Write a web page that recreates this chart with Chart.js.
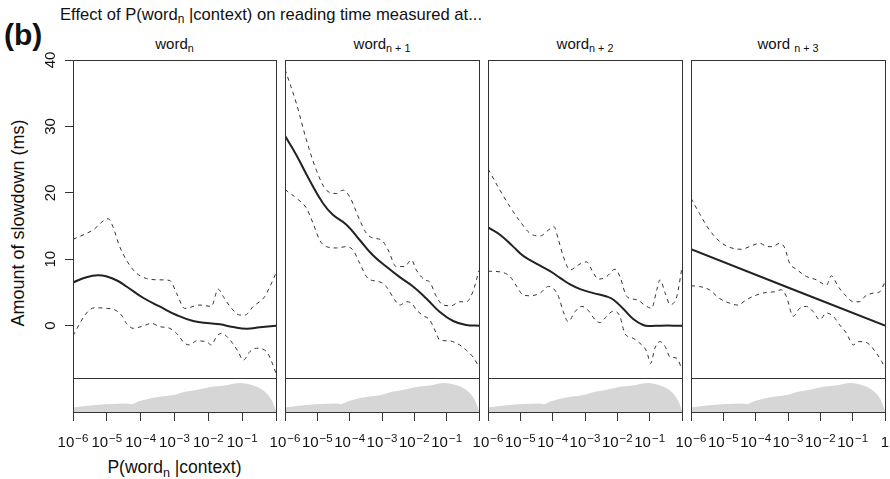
<!DOCTYPE html>
<html>
<head>
<meta charset="utf-8">
<script src="https://cdn.jsdelivr.net/npm/chart.js@4.4.1/dist/chart.umd.min.js"></script>
<style>
  html, body { margin: 0; padding: 0; background: #fff; }
  body { width: 890px; height: 479px; position: relative; overflow: hidden;
         font-family: "Liberation Sans", Arial, sans-serif; color: #111; }
  canvas { position: absolute; left: 0; top: 0; }
  .txt { position: absolute; white-space: nowrap; line-height: 1; }
  .txt sub { font-size: 0.72em; vertical-align: -0.28em; line-height: 0; }
  #tag { left: 4px; top: 20px; font-size: 30px; font-weight: bold; }
  #title { left: 60px; top: 7px; font-size: 16.6px; }
  .ptitle { top: 36px; font-size: 15px; text-align: center; }
  #ylab { left: 18px; top: 223px; font-size: 18px; transform: translate(-50%, -50%) rotate(-90deg); }
  #xlab { left: 73px; width: 203px; top: 459px; font-size: 17.5px; text-align: center; }
</style>
</head>
<body>
<div class="txt" id="tag">(b)</div>
<div class="txt" id="title">Effect of P(word<sub>n</sub> |context) on reading time measured at...</div>
<div class="txt ptitle" style="left:73px;width:203px">word<sub>n</sub></div>
<div class="txt ptitle" style="left:285px;width:194px">word<sub>n + 1</sub></div>
<div class="txt ptitle" style="left:488px;width:194px">word<sub>n + 2</sub></div>
<div class="txt ptitle" style="left:691px;width:194px">word <sub>n + 3</sub></div>
<div class="txt" id="ylab">Amount of slowdown (ms)</div>
<div class="txt" id="xlab">P(word<sub>n</sub> |context)</div>
<canvas id="c0" width="890" height="479"></canvas>
<canvas id="c1" width="890" height="479"></canvas>
<canvas id="c2" width="890" height="479"></canvas>
<canvas id="c3" width="890" height="479"></canvas>
<script>
// x is log10 P(word_n | context)
const xTicks = [-6, -5, -4, -3, -2, -1, 0];
const xTickBase = ['10', '10', '10', '10', '10', '10', '1'];
const xTickExp = ['\u22126', '\u22125', '\u22124', '\u22123', '\u22122', '\u22121', ''];
const yTicks = [0, 10, 20, 30, 40];

// density of log10 P in the data (relative height, 1 = top of strip)
const densX = [-6, -5.41, -4.42, -4.27, -4.03, -3.73, -3.44, -3.04, -2.65, -2.25, -1.86, -1.46, -1.07, -0.87, -0.48, -0.28, -0.13, 0];
const densY = [0.13, 0.2, 0.25, 0.23, 0.32, 0.4, 0.45, 0.5, 0.6, 0.67, 0.75, 0.79, 0.85, 0.83, 0.7, 0.55, 0.35, 0.04];

// word n
const fitN0 = [[-6,6.5],[-5.6,7.3],[-5.26,7.6],[-5.0,7.4],[-4.7,6.8],[-4.42,5.9],[-3.93,4.2],[-3.44,2.9],[-2.94,1.6],[-2.45,0.7],[-1.96,0.35],[-1.66,0.2],[-1.27,-0.2],[-0.87,-0.45],[-0.48,-0.25],[0,0]];
const upN0 = [[-6,13.0],[-5.41,14.4],[-4.96,16.1],[-4.82,14.9],[-4.62,11.9],[-4.22,8.4],[-3.83,7.1],[-3.44,6.9],[-3.14,6.8],[-2.94,4.9],[-2.7,2.6],[-2.25,3.1],[-1.91,2.9],[-1.71,5.5],[-1.56,4.4],[-1.36,2.9],[-1.07,1.6],[-0.92,1.6],[-0.67,2.9],[-0.33,4.4],[-0.18,5.9],[0,7.9]];
const loN0 = [[-6,-1.5],[-5.6,1.9],[-5.36,2.7],[-5.01,2.6],[-4.77,2.4],[-4.57,1.6],[-4.42,0.35],[-4.22,-0.4],[-3.93,-0.05],[-3.68,0.35],[-3.44,-0.15],[-3.14,-0.4],[-2.94,-1.15],[-2.7,-2.65],[-2.55,-2.9],[-2.35,-2.3],[-2.06,-2.4],[-1.91,-2.9],[-1.76,-1.65],[-1.61,-1.15],[-1.36,-2.15],[-1.12,-3.9],[-0.97,-5.2],[-0.77,-3.9],[-0.58,-3.4],[-0.28,-3.9],[-0.13,-5.4],[0,-7.2]];

// word n+1
const fitN1 = [[-6,28.6],[-5.65,25.7],[-5.24,21.9],[-4.82,18.4],[-4.52,16.7],[-4.1,15.2],[-3.69,12.9],[-3.28,10.6],[-2.87,8.9],[-2.45,7.3],[-2.04,5.9],[-1.63,4.1],[-1.22,2.1],[-0.8,0.7],[-0.39,0.1],[0,0]];
const upN1 = [[-6,38.6],[-5.65,33.5],[-5.34,28.0],[-5.03,23.4],[-4.72,20.4],[-4.41,19.9],[-4.21,20.4],[-4.0,19.4],[-3.69,15.9],[-3.48,13.9],[-3.28,13.2],[-3.02,12.9],[-2.81,11.4],[-2.56,8.9],[-2.3,8.9],[-2.09,9.9],[-1.94,8.4],[-1.68,6.9],[-1.53,6.6],[-1.32,4.4],[-1.11,3.1],[-0.86,3.0],[-0.6,3.6],[-0.39,3.6],[-0.19,5.1],[0,8.3]];
const loN1 = [[-6,20.5],[-5.65,19.2],[-5.34,17.7],[-5.13,15.4],[-4.93,12.9],[-4.72,11.9],[-4.41,11.7],[-4.1,11.9],[-3.9,11.4],[-3.69,9.4],[-3.43,7.1],[-3.07,6.6],[-2.87,5.9],[-2.61,3.9],[-2.45,3.1],[-2.25,3.6],[-2.09,3.4],[-1.94,2.4],[-1.73,1.5],[-1.53,0.9],[-1.32,-1.15],[-1.22,-2.15],[-0.91,-2.3],[-0.6,-2.9],[-0.39,-3.7],[-0.19,-4.7],[0,-6.2]];

// word n+2
const fitN2 = [[-6,14.8],[-5.63,13.7],[-5.22,11.9],[-4.91,10.5],[-4.49,9.3],[-4.08,8.2],[-3.77,7.2],[-3.46,6.2],[-3.15,5.5],[-2.74,4.9],[-2.33,4.4],[-2.12,3.9],[-1.81,2.5],[-1.51,1.0],[-1.2,0.1],[-0.99,-0.05],[-0.68,0.0],[0,0]];
const upN2 = [[-6,23.6],[-5.63,20.4],[-5.32,17.9],[-5.01,15.7],[-4.7,13.9],[-4.39,13.5],[-4.13,14.4],[-3.96,14.9],[-3.82,12.9],[-3.67,10.4],[-3.46,8.4],[-3.15,9.3],[-2.95,9.6],[-2.74,7.9],[-2.58,7.0],[-2.33,7.4],[-2.07,8.5],[-1.92,7.4],[-1.71,4.4],[-1.4,3.9],[-1.09,2.9],[-0.94,2.6],[-0.78,5.4],[-0.68,6.9],[-0.52,4.9],[-0.37,3.2],[-0.16,4.4],[0,8.8]];
const loN2 = [[-6,8.2],[-5.63,8.1],[-5.32,7.4],[-5.11,5.9],[-4.91,4.6],[-4.7,4.5],[-4.39,4.9],[-4.13,5.9],[-3.98,5.6],[-3.82,4.4],[-3.67,2.1],[-3.52,0.6],[-3.31,2.1],[-3.1,2.9],[-2.9,2.3],[-2.69,0.9],[-2.54,0.45],[-2.33,1.4],[-2.12,2.2],[-1.92,1.4],[-1.77,-1.15],[-1.51,-1.9],[-1.3,-2.65],[-1.09,-3.9],[-0.97,-5.7],[-0.84,-3.4],[-0.68,-2.4],[-0.52,-3.15],[-0.37,-4.7],[-0.16,-4.9],[0,-6.6]];

// word n+3
const fitN3 = [[-6,11.5],[0,0]];
const upN3 = [[-6,19.2],[-5.74,16.9],[-5.43,14.4],[-5.12,12.7],[-4.81,11.8],[-4.45,11.5],[-4.14,12.0],[-3.88,12.4],[-3.62,11.9],[-3.47,11.9],[-3.26,12.4],[-3.1,11.7],[-2.95,9.4],[-2.74,8.5],[-2.43,7.4],[-2.12,6.9],[-1.81,6.1],[-1.66,7.5],[-1.45,5.9],[-1.19,4.4],[-0.98,3.6],[-0.78,3.6],[-0.62,4.4],[-0.36,4.9],[-0.16,5.1],[0,6.6]];
const loN3 = [[-6,6.0],[-5.74,5.9],[-5.43,5.4],[-5.12,4.1],[-4.81,3.4],[-4.55,3.1],[-4.29,3.9],[-3.98,4.6],[-3.67,5.0],[-3.41,5.1],[-3.21,5.4],[-3.05,4.4],[-2.84,1.4],[-2.64,2.6],[-2.43,2.9],[-2.22,2.1],[-2.02,0.9],[-1.81,1.9],[-1.6,1.4],[-1.4,0.1],[-1.19,-1.15],[-0.98,-2.9],[-0.83,-2.4],[-0.67,-2.4],[-0.47,-2.9],[-0.26,-4.2],[-0.1,-5.4],[0,-6.4]];

const panels = [
  { id: 'c0', fit: fitN0, up: upN0, lo: loN0, left: 73, right: 276, yAxis: true, last: false },
  { id: 'c1', fit: fitN1, up: upN1, lo: loN1, left: 285, right: 479, yAxis: false, last: false },
  { id: 'c2', fit: fitN2, up: upN2, lo: loN2, left: 488, right: 682, yAxis: false, last: false },
  { id: 'c3', fit: fitN3, up: upN3, lo: loN3, left: 691, right: 885, yAxis: false, last: true }
];

const FONT = '"Liberation Sans", Arial, sans-serif';
const INK = '#222';

// panel box, separator above the density strip, and R-style tick labels
const frame = {
  id: 'frame',
  afterDatasetsDraw(chart, args, opts) {
    const { ctx, chartArea: a, scales } = chart;
    const sep = Math.round(scales.yd.getPixelForValue(1)) + 0.5;
    ctx.save();
    ctx.strokeStyle = '#333';
    ctx.lineWidth = 1;
    ctx.strokeRect(a.left + 0.5, a.top + 0.5, a.right - a.left, a.bottom - a.top);
    ctx.beginPath();
    ctx.moveTo(a.left, sep);
    ctx.lineTo(a.right, sep);
    ctx.stroke();

    ctx.fillStyle = '#111';
    ctx.textBaseline = 'alphabetic';
    xTicks.forEach((v, i) => {
      if (xTickBase[i] === '1' && !opts.last) return;
      const px = scales.x.getPixelForValue(v);
      ctx.font = '15px ' + FONT;
      const wb = ctx.measureText(xTickBase[i]).width;
      ctx.font = '11.5px ' + FONT;
      const we = xTickExp[i] ? ctx.measureText(xTickExp[i]).width + 1 : 0;
      const x0 = px - (wb + we) / 2;
      ctx.font = '15px ' + FONT;
      ctx.textAlign = 'left';
      ctx.fillText(xTickBase[i], x0, a.bottom + 35);
      if (xTickExp[i]) {
        ctx.font = '11.5px ' + FONT;
        ctx.fillText(xTickExp[i], x0 + wb + 1, a.bottom + 29.5);
      }
    });

    if (opts.yLabels) {
      ctx.font = '15px ' + FONT;
      ctx.textAlign = 'center';
      yTicks.forEach(v => {
        const py = scales.y.getPixelForValue(v);
        ctx.save();
        ctx.translate(a.left - 18, py);
        ctx.rotate(-Math.PI / 2);
        ctx.fillText(String(v), 0, 0);
        ctx.restore();
      });
    }
    ctx.restore();
  }
};

const toPts = arr => arr.map(p => ({ x: p[0], y: p[1] }));

panels.forEach(p => {
  const ctx = document.getElementById(p.id).getContext('2d');
  new Chart(ctx, {
    type: 'line',
    data: {
      datasets: [
        { data: toPts(p.fit), borderColor: INK, borderWidth: 2, pointRadius: 0,
          tension: 0.45, yAxisID: 'y' },
        { data: toPts(p.up), borderColor: '#333', borderWidth: 1, borderDash: [4, 4], pointRadius: 0,
          cubicInterpolationMode: 'monotone', yAxisID: 'y' },
        { data: toPts(p.lo), borderColor: '#333', borderWidth: 1, borderDash: [4, 4], pointRadius: 0,
          cubicInterpolationMode: 'monotone', yAxisID: 'y' },
        { data: densX.map((x, i) => ({ x, y: densY[i] })), yAxisID: 'yd', fill: 'origin',
          backgroundColor: '#d6d6d6', borderWidth: 0, pointRadius: 0, cubicInterpolationMode: 'monotone' }
      ]
    },
    options: {
      responsive: false,
      animation: false,
      events: [],
      layout: { padding: { left: p.yAxis ? p.left - 8 : p.left, right: 890 - p.right, top: 60, bottom: 7 } },
      plugins: {
        legend: { display: false },
        tooltip: { enabled: false },
        frame: { last: p.last, yLabels: p.yAxis }
      },
      scales: {
        x: {
          type: 'linear', min: -6, max: 0,
          afterBuildTicks: s => { s.ticks = xTicks.map(v => ({ value: v })); },
          afterFit: s => { s.height = 60; },
          ticks: { display: false },
          grid: { drawOnChartArea: false, tickLength: 9, color: '#333' },
          border: { display: false }
        },
        y: {
          type: 'linear', display: p.yAxis, min: -13, max: 40,
          afterBuildTicks: s => { s.ticks = yTicks.map(v => ({ value: v })); },
          afterFit: s => { s.width = p.yAxis ? 8 : 0; },
          ticks: { display: false },
          grid: { drawOnChartArea: false, tickLength: 8, color: '#333' },
          border: { display: false }
        },
        yd: { type: 'linear', display: false, min: 0, max: 10.35 }
      }
    },
    plugins: [frame]
  });
});
</script>
</body>
</html>
